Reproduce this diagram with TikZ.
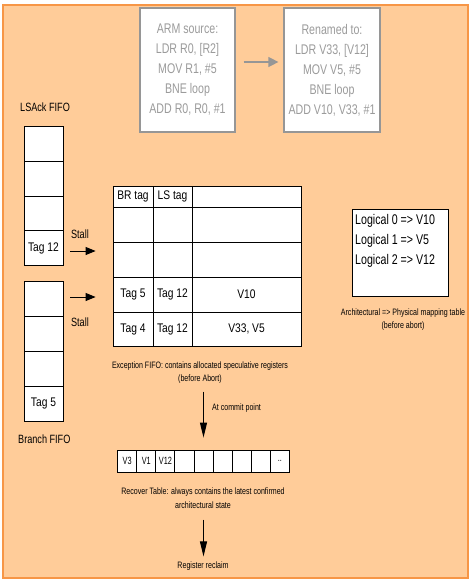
\documentclass[tikz,border=0pt]{standalone}
\usepackage{fontspec}
\setmainfont[FakeStretch=0.82]{Liberation Sans}
\newfontfamily\codefont[FakeStretch=0.76]{Liberation Sans}
\newfontfamily\smallnarrow[FakeStretch=0.76]{Liberation Sans}
\newfontfamily\cellnarrow[FakeStretch=0.7]{Liberation Sans}
\usetikzlibrary{arrows.meta,calc}
\definecolor{bgfill}{RGB}{255,204,153}
\definecolor{bgedge}{RGB}{247,150,70}
\definecolor{grayline}{RGB}{150,150,150}
\definecolor{graytext}{RGB}{155,155,155}
\tikzset{
  codebox/.style={draw=grayline, line width=1.2pt, fill=white, text=graytext, align=center,
    minimum width=#1, minimum height=124pt, inner sep=0pt,
    font=\codefont\fontsize{14}{20}\selectfont},
  cell/.style={draw=black, line width=0.8pt, fill=white, inner sep=0pt, minimum width=#1,
    font=\fontsize{12.5}{14}\selectfont},
  fifocell/.style={cell=39pt, minimum height=35pt},
  tcell/.style 2 args={cell=#1, minimum height=#2},
  rcell/.style={draw=black, line width=0.8pt, fill=white, inner sep=0pt, minimum width=19.07pt,
    minimum height=22pt, font=\cellnarrow\fontsize{10.5}{11}\selectfont},
  lbl/.style={inner sep=0pt, font=\codefont\fontsize{12}{13}\selectfont},
  capt/.style={inner sep=0pt, align=center, font=\smallnarrow\fontsize{9.3}{13}\selectfont},
  blackarrow/.style={line width=0.9pt, -{Triangle[length=10pt,width=8pt]}},
  downarrow/.style={line width=1pt, -{Triangle[length=15pt,width=7pt]}},
  grayarrow/.style={draw=grayline, line width=1.2pt, -{Triangle[length=10pt,width=10pt]}},
}
\begin{document}
\begin{tikzpicture}[x=1pt,y=-1pt]
\useasboundingbox (0,0) rectangle (473,584);
\fill[white] (0,0) rectangle (473,584);
\draw[bgedge, fill=bgfill, line width=2pt] (3,5) rectangle (468,578);

% code boxes
\node[codebox=95pt] (arm) at (187.5,70) {ARM source:\\LDR R0, [R2]\\MOV R1, \#5\\BNE loop\\ADD R0, R0, \#1};
\node[codebox=96pt] (ren) at (332,70) {Renamed to:\\LDR V33, [V12]\\MOV V5, \#5\\BNE loop\\ADD V10, V33, \#1};
\draw[grayarrow, shorten <=8pt, shorten >=5pt] ([yshift=8pt]arm.east) -- ([yshift=8pt]ren.west);

% LSAck FIFO
\node[lbl, anchor=west] (lsacklbl) at (20,107) {LSAck FIFO};
\node[fifocell] (l1) at (43.5,143.5) {};
\node[fifocell] (l2) at (43.5,178.5) {};
\node[fifocell] (l3) at (43.5,213.5) {};
\node[fifocell] (l4) at (43.5,248) {Tag 12};

% Branch FIFO
\node[fifocell] (b1) at (43.5,298.5) {};
\node[fifocell] (b2) at (43.5,333.5) {};
\node[fifocell] (b3) at (43.5,368.5) {};
\node[fifocell] (b4) at (43.5,403.5) {Tag 5};
\node[lbl, anchor=west] (branchlbl) at (18,439) {Branch FIFO};

% Exception FIFO table
\node[tcell={40pt}{21pt}] (h1) at (133,196.5) {BR tag};
\node[tcell={39pt}{21pt}] (h2) at (172.5,196.5) {LS tag};
\node[tcell={109pt}{21pt}] (h3) at (246.5,196.5) {};
\node[tcell={40pt}{35pt}] (r1a) at (133,224.5) {};
\node[tcell={39pt}{35pt}] (r1b) at (172.5,224.5) {};
\node[tcell={109pt}{35pt}] (r1c) at (246.5,224.5) {};
\node[tcell={40pt}{35pt}] (r2a) at (133,259.5) {};
\node[tcell={39pt}{35pt}] (r2b) at (172.5,259.5) {};
\node[tcell={109pt}{35pt}] (r2c) at (246.5,259.5) {};
\node[tcell={40pt}{35pt}] (r3a) at (133,294.5) {Tag 5};
\node[tcell={39pt}{35pt}] (r3b) at (172.5,294.5) {Tag 12};
\node[tcell={109pt}{35pt}] (r3c) at (246.5,294.5) {V10};
\node[tcell={40pt}{34pt}] (r4a) at (133,329) {Tag 4};
\node[tcell={39pt}{34pt}] (r4b) at (172.5,329) {Tag 12};
\node[tcell={109pt}{34pt}] (r4c) at (246.5,329) {V33, V5};

% Stall arrows
\node[lbl] (stall1) at (80,234) {Stall};
\draw[blackarrow, shorten <=7pt, shorten >=17pt] ([yshift=-3pt]l4.east) -- ([yshift=-3pt]l4.east -| r2a.west);
\node[lbl] (stall2) at (80,322) {Stall};
\draw[blackarrow, shorten <=7pt, shorten >=17pt] ([yshift=1.5pt]b1.east) -- ([yshift=1.5pt]b1.east -| r3a.west);

% captions
\node[capt] (exc1) at (200,366) {Exception FIFO: contains allocated speculative registers};
\node[capt] (exc2) at (200,379) {(before Abort)};

% Recover table
\node[rcell] (c1) at (127.2,461) {V3};
\node[rcell] (c2) at (146.3,461) {V1};
\node[rcell] (c3) at (165.4,461) {V12};
\node[rcell] (c4) at (184.4,461) {};
\node[rcell] (c5) at (203.5,461) {};
\node[rcell] (c6) at (222.6,461) {};
\node[rcell] (c7) at (241.7,461) {};
\node[rcell] (c8) at (260.7,461) {};
\node[rcell] (c9) at (279.8,461) {..};

\draw[downarrow, shorten <=8pt, shorten >=12pt] (c5.north |- exc2.south) -- (c5.north);
\node[capt, anchor=west] (commit) at (212,408) {At commit point};

\node[capt] (rec1) at (203,492) {Recover Table: always contains the latest confirmed};
\node[capt] (rec2) at (203,505) {architectural state};
\node[capt] (reclaim) at (203,566) {Register reclaim};
\draw[downarrow, shorten <=11pt, shorten >=5pt] (c5.north |- rec2.south) -- (c5.north |- reclaim.north);

% mapping table
\node[draw=black, line width=0.8pt, fill=white, minimum width=96pt, minimum height=87pt, inner sep=0pt] (map) at (400,252.5) {};
\node[anchor=north west, inner sep=0pt, align=left, font=\codefont\fontsize{14}{20}\selectfont] (maptext) at (355,214) {Logical 0 => V10\\Logical 1 => V5\\Logical 2 => V12};
\node[capt] (arch1) at (403,313) {Architectural => Physical mapping table};
\node[capt] (arch2) at (403,326) {(before abort)};
\end{tikzpicture}
\end{document}
